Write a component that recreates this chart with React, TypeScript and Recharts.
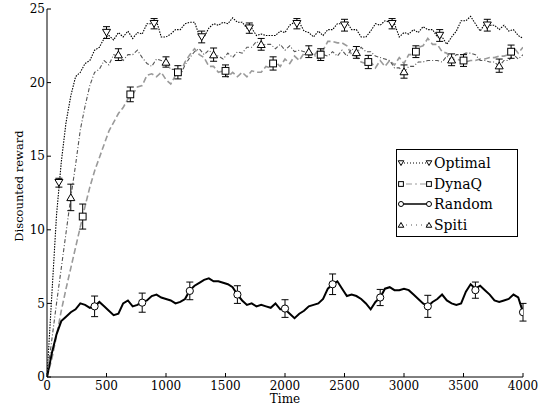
import React from 'react';
import { LineChart, Line, XAxis, YAxis, ErrorBar, Legend } from 'recharts';

// time grid of the traces
const TIME = [
  0, 40, 80, 120, 160, 200, 240, 280, 320, 360,
  400, 440, 480, 520, 560, 600, 640, 680, 720, 760,
  800, 840, 880, 920, 960, 1000, 1040, 1080, 1120, 1160,
  1200, 1240, 1280, 1320, 1360, 1400, 1440, 1480, 1520, 1560,
  1600, 1640, 1680, 1720, 1760, 1800, 1840, 1880, 1920, 1960,
  2000, 2040, 2080, 2120, 2160, 2200, 2240, 2280, 2320, 2360,
  2400, 2440, 2480, 2520, 2560, 2600, 2640, 2680, 2720, 2760,
  2800, 2840, 2880, 2920, 2960, 3000, 3040, 3080, 3120, 3160,
  3200, 3240, 3280, 3320, 3360, 3400, 3440, 3480, 3520, 3560,
  3600, 3640, 3680, 3720, 3760, 3800, 3840, 3880, 3920, 3960,
  4000,
];

const OPTIMAL = [
  0, 5.5, 11.0, 14.6, 17.3, 19.1, 20.4, 20.7, 21.3, 21.5,
  22.2, 22.4, 23.0, 23.2, 22.9, 23.4, 23.1, 23.5, 23.0, 23.4,
  23.3, 24.0, 24.0, 24.2, 23.1, 23.1, 23.3, 23.6, 23.6, 24.0,
  24.1, 24.1, 23.2, 23.1, 23.7, 24.0, 23.9, 24.1, 24.0, 24.4,
  24.1, 24.1, 23.7, 23.7, 23.2, 23.3, 23.2, 23.2, 23.2, 23.5,
  23.4, 23.9, 24.1, 24.1, 23.5, 23.4, 23.1, 23.5, 23.2, 23.6,
  23.6, 24.0, 24.0, 24.1, 23.6, 23.6, 23.1, 23.1, 23.5, 24.0,
  23.9, 24.2, 24.1, 24.0, 23.1, 23.4, 23.3, 23.6, 23.4, 23.8,
  23.6, 23.6, 23.1, 23.1, 22.6, 23.1, 23.5, 24.2, 24.2, 24.5,
  24.0, 23.5, 24.0, 23.9, 23.9, 23.6, 23.9, 23.5, 23.6, 23.2,
  23.0,
];

const DYNAQ = [
  0, 1.2, 2.8, 4.5, 6.0, 7.4, 8.8, 10.2, 11.6, 12.9,
  14.0, 14.9, 15.8, 16.7, 17.3, 17.9, 18.3, 18.9, 19.2, 19.7,
  19.8, 20.5, 20.6, 20.4, 20.7, 20.2, 19.9, 20.5, 20.7, 21.4,
  21.9, 22.3, 21.9, 21.7, 21.1, 21.1, 20.7, 20.8, 20.4, 20.7,
  20.4, 20.7, 20.4, 20.8, 20.7, 20.7, 21.1, 21.0, 21.4, 21.1,
  21.6, 21.3, 21.8, 21.5, 22.0, 21.9, 21.8, 22.2, 22.2, 22.8,
  22.8, 22.7, 22.7, 22.5, 21.9, 21.8, 21.4, 21.3, 21.4, 21.0,
  21.5, 21.1, 21.5, 21.2, 21.7, 21.3, 21.9, 21.9, 22.4, 22.5,
  23.0, 22.6, 22.6, 22.1, 22.0, 21.5, 21.6, 21.5, 21.4, 21.5,
  21.5, 21.6, 21.6, 21.7, 21.7, 21.8, 21.8, 21.9, 22.4, 22.0,
  22.4,
];

const RANDOM = [
  0, 1.6, 2.9, 3.8, 4.1, 4.4, 4.6, 5.0, 4.9, 4.7,
  4.8, 5.1, 4.8, 4.5, 4.2, 4.3, 5.0, 5.2, 4.8, 4.9,
  5.1, 5.2, 5.5, 5.6, 5.4, 5.3, 5.2, 5.0, 5.1, 5.3,
  5.9, 6.2, 6.4, 6.6, 6.7, 6.5, 6.5, 6.4, 6.3, 6.1,
  5.6, 5.2, 4.9, 5.0, 4.8, 4.9, 4.8, 4.7, 5.0, 4.6,
  4.6, 4.3, 4.0, 4.3, 4.5, 4.8, 4.9, 5.0, 5.3, 6.0,
  6.3, 6.5, 6.0, 5.5, 5.6, 5.5, 5.3, 5.0, 4.6, 5.1,
  5.4, 6.0, 6.1, 5.9, 5.9, 6.0, 5.9, 5.6, 5.3, 5.0,
  4.8, 5.1, 5.3, 5.6, 5.2, 5.0, 4.9, 5.0, 5.8, 6.3,
  6.0, 6.2, 5.9, 5.6, 5.2, 5.1, 5.2, 5.3, 5.6, 5.4,
  4.4,
];

const SPITI = [
  0, 2.5, 5.0, 7.4, 9.8, 12.2, 14.4, 16.8, 18.4, 19.8,
  20.7, 20.9, 21.5, 21.2, 21.9, 21.8, 21.5, 21.9, 21.9, 22.2,
  21.7, 21.3, 21.1, 21.6, 21.5, 21.4, 20.9, 20.9, 20.5, 21.2,
  21.7, 22.1, 22.3, 21.9, 22.2, 21.9, 21.8, 21.6, 22.0, 21.7,
  22.1, 22.0, 22.4, 22.4, 22.8, 22.5, 22.6, 22.6, 22.3, 22.6,
  22.2, 22.5, 22.1, 22.2, 22.1, 22.1, 21.9, 21.6, 21.9, 21.8,
  22.1, 21.8, 22.2, 21.8, 22.3, 22.0, 22.4, 22.1, 22.1, 21.8,
  21.7, 21.6, 21.5, 21.0, 21.0, 20.7, 21.1, 21.1, 21.4, 21.4,
  21.5, 21.5, 21.5, 21.4, 21.8, 21.5, 21.9, 21.9, 22.0, 22.0,
  21.9, 21.5, 21.5, 21.4, 21.4, 21.1, 21.5, 21.5, 21.9, 21.6,
  21.9,
];

// markers with error bars
const OPTIMAL_MARK_T = [100, 500, 900, 1300, 1700, 2100, 2500, 2900, 3300, 3700];
const OPTIMAL_MARK_Y = [13.2, 23.4, 24.0, 23.1, 23.7, 24.0, 23.9, 24.0, 23.2, 23.9];
const OPTIMAL_MARK_ERR = [0.3, 0.4, 0.35, 0.4, 0.35, 0.35, 0.4, 0.35, 0.4, 0.4];

const DYNAQ_MARK_T = [300, 700, 1100, 1500, 1900, 2300, 2700, 3100, 3500, 3900];
const DYNAQ_MARK_Y = [10.9, 19.2, 20.7, 20.8, 21.3, 21.9, 21.4, 22.1, 21.5, 22.1];
const DYNAQ_MARK_ERR = [0.85, 0.5, 0.45, 0.4, 0.45, 0.4, 0.45, 0.4, 0.4, 0.45];

const RANDOM_MARK_T = [400, 800, 1200, 1600, 2000, 2400, 2800, 3200, 3600, 4000];
const RANDOM_MARK_Y = [4.8, 5.05, 5.85, 5.6, 4.65, 6.3, 5.4, 4.8, 5.9, 4.4];
const RANDOM_MARK_ERR = [0.7, 0.65, 0.6, 0.6, 0.6, 0.7, 0.55, 0.75, 0.55, 0.6];

const SPITI_MARK_T = [200, 600, 1000, 1400, 1800, 2200, 2600, 3000, 3400, 3800];
const SPITI_MARK_Y = [12.2, 21.9, 21.4, 21.9, 22.6, 22.1, 22.05, 20.75, 21.55, 21.15];
const SPITI_MARK_ERR = [0.9, 0.4, 0.35, 0.45, 0.4, 0.4, 0.4, 0.45, 0.4, 0.45];

const X_TICKS = [0, 500, 1000, 1500, 2000, 2500, 3000, 3500, 4000];
const Y_TICKS = [0, 5, 10, 15, 20, 25];

const FONT = 'DejaVu Serif';

type Shape = 'down' | 'square' | 'circle' | 'up';

function Marker({ shape, cx, cy, s = 4 }: { shape: Shape; cx: number; cy: number; s?: number }) {
  const common = { fill: '#fff', stroke: '#000', strokeWidth: 1 };
  if (shape === 'circle') return <circle cx={cx} cy={cy} r={s * 0.9} {...common} />;
  if (shape === 'square') return <rect x={cx - s * 0.85} y={cy - s * 0.85} width={s * 1.7} height={s * 1.7} {...common} />;
  if (shape === 'down')
    return <polygon points={`${cx - s},${cy - s * 0.8} ${cx + s},${cy - s * 0.8} ${cx},${cy + s * 0.9}`} {...common} />;
  return <polygon points={`${cx - s},${cy + s * 0.8} ${cx + s},${cy + s * 0.8} ${cx},${cy - s * 0.9}`} {...common} />;
}

const trace = (ys: number[]) => TIME.map((t, i) => ({ t, y: ys[i] }));
const marks = (ts: number[], ys: number[], es: number[]) => ts.map((t, i) => ({ t, y: ys[i], e: es[i] }));

const SERIES = [
  { name: 'Optimal', data: trace(OPTIMAL), marks: marks(OPTIMAL_MARK_T, OPTIMAL_MARK_Y, OPTIMAL_MARK_ERR), color: '#000', dash: '1.5 1.2', width: 1.1, shape: 'down' as Shape },
  { name: 'DynaQ', data: trace(DYNAQ), marks: marks(DYNAQ_MARK_T, DYNAQ_MARK_Y, DYNAQ_MARK_ERR), color: '#9a9a9a', dash: '6 3', width: 1.6, shape: 'square' as Shape },
  { name: 'Random', data: trace(RANDOM), marks: marks(RANDOM_MARK_T, RANDOM_MARK_Y, RANDOM_MARK_ERR), color: '#000', dash: undefined, width: 2, shape: 'circle' as Shape },
  { name: 'Spiti', data: trace(SPITI), marks: marks(SPITI_MARK_T, SPITI_MARK_Y, SPITI_MARK_ERR), color: '#555', dash: '4 2 1 2', width: 1.1, shape: 'up' as Shape },
];

const LEGEND_DASH: Record<string, string | undefined> = { Optimal: '1 2', DynaQ: '2 3 6 3', Random: undefined, Spiti: '1 4' };

function LegendBox() {
  return (
    <div
      style={{
        width: 122, height: 88, boxSizing: 'border-box', border: '1px solid #000', background: '#fff',
        padding: '3px 0 0 0', fontFamily: FONT, fontSize: 14, color: '#000',
      }}
    >
      {SERIES.map(s => (
        <div key={s.name} style={{ display: 'flex', alignItems: 'center', height: 20.5 }}>
          <svg width={37} height={16} style={{ flex: 'none' }}>
            <line x1={4} y1={8} x2={32} y2={8} stroke={s.color} strokeWidth={s.shape === 'circle' ? 1.5 : 1} strokeDasharray={LEGEND_DASH[s.name]} />
            <Marker shape={s.shape} cx={4} cy={8} s={2.8} />
            <Marker shape={s.shape} cx={32} cy={8} s={2.8} />
          </svg>
          <span style={{ lineHeight: '16px' }}>{s.name}</span>
        </div>
      ))}
    </div>
  );
}

export default function App() {
  const tickStyle = { fill: '#000', fontSize: 12, fontFamily: FONT };
  return (
    <div style={{ position: 'absolute', left: 0, top: 0, background: '#fff' }}>
      <LineChart width={548} height={406} margin={{ top: 9, right: 25, bottom: 0, left: 0 }}>
        <XAxis
          dataKey="t" type="number" domain={[0, 4000]} ticks={X_TICKS} allowDataOverflow
          height={29} tickSize={-4} tickMargin={8} tick={tickStyle}
          axisLine={{ stroke: '#000' }} tickLine={{ stroke: '#000' }}
          label={{ value: 'Time', position: 'insideBottom', offset: 3, fill: '#000', fontSize: 12, fontFamily: FONT }}
        />
        <XAxis
          xAxisId="top" orientation="top" type="number" domain={[0, 4000]} ticks={X_TICKS} allowDataOverflow
          height={0} tickSize={-4} tickFormatter={() => ''} axisLine={{ stroke: '#000' }} tickLine={{ stroke: '#000' }}
        />
        <YAxis
          type="number" domain={[0, 25]} ticks={Y_TICKS} allowDataOverflow width={47}
          tickSize={-4} tickMargin={6} tick={tickStyle}
          axisLine={{ stroke: '#000' }} tickLine={{ stroke: '#000' }}
          label={{
            content: () => (
              <text x={19} y={186} transform="rotate(-90 19 186)" textAnchor="middle" dominantBaseline="central" fontSize={11.5} fontFamily={FONT} fill="#000">
                Discounted reward
              </text>
            ),
          }}
        />
        <YAxis
          yAxisId="right" orientation="right" type="number" domain={[0, 25]} ticks={Y_TICKS} allowDataOverflow
          width={0} tickSize={-4} tickFormatter={() => ''} axisLine={{ stroke: '#000' }} tickLine={{ stroke: '#000' }}
        />
        {SERIES.map(s => (
          <Line
            key={s.name} name={s.name} data={s.data} dataKey="y" type="linear" stroke={s.color}
            strokeWidth={s.width} strokeDasharray={s.dash} dot={false} activeDot={false}
            isAnimationActive={false} legendType="none"
          />
        ))}
        {SERIES.map(s => (
          <Line
            key={s.name + '-marks'} name={s.name + ' marks'} data={s.marks} dataKey="y" stroke="none"
            isAnimationActive={false} legendType="none" activeDot={false}
            dot={(p: any) => <Marker key={p.index} shape={s.shape} cx={p.cx} cy={p.cy} />}
          >
            <ErrorBar dataKey="e" width={3.5} stroke="#000" strokeWidth={1} direction="y" />
          </Line>
        ))}
        <Legend
          layout="vertical" align="center" verticalAlign="middle"
          wrapperStyle={{ left: 396, top: 149, width: 122 }}
          content={() => <LegendBox />}
        />
      </LineChart>
    </div>
  );
}
